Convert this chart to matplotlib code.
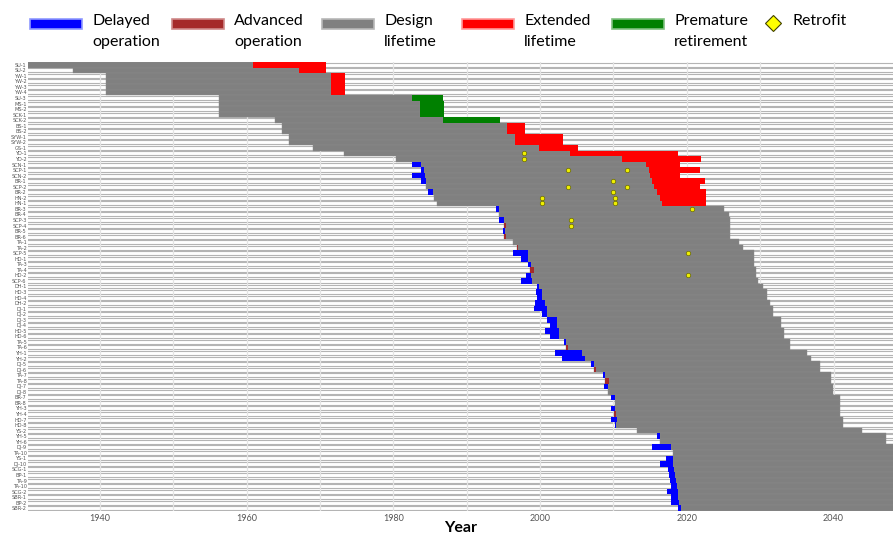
import numpy as np
import matplotlib
matplotlib.use("Agg")
import matplotlib.pyplot as plt
from matplotlib.patches import Rectangle
from matplotlib.lines import Line2D

plt.rcParams['font.family'] = ['Lato', 'DejaVu Sans']

units = ["SU-1", "SU-2", "YW-1", "YW-2", "YW-3", "YW-4", "SU-3", "MS-1", "MS-2", "SCK-1",
         "SCK-2", "BS-1", "BS-2", "SYW-1", "SYW-2", "GS-1", "YD-1", "YD-2", "SCN-1", "SCP-1",
         "SCN-2", "BR-1", "SCP-2", "BR-2", "HN-2", "HN-1", "BR-3", "BR-4", "SCP-3", "SCP-4",
         "BR-5", "BR-6", "TA-1", "TA-2", "SCP-5", "HD-1", "TA-3", "TA-4", "HD-2", "SCP-6",
         "DH-1", "HD-3", "HD-4", "DH-2", "DJ-1", "DJ-2", "DJ-3", "DJ-4", "HD-5", "HD-6",
         "TA-5", "TA-6", "YH-1", "YH-2", "DJ-5", "DJ-6", "TA-7", "TA-8", "DJ-7", "DJ-8",
         "BR-7", "BR-8", "YH-3", "YH-4", "HD-7", "HD-8", "YS-2", "YH-5", "YH-6", "DJ-9",
         "TA-10", "YS-1", "DJ-10", "SCG-1", "BP-1", "TA-9", "TA-10", "SCG-2", "SBR-1", "BP-2",
         "SBR-2"]

# actual start of operation
start = [1930.0, 1936.3, 1940.8, 1940.8, 1940.8, 1940.8, 1956.3, 1956.3, 1956.3, 1956.3,
         1963.9, 1964.8, 1964.8, 1965.8, 1965.8, 1969.0, 1973.3, 1980.3, 1983.7, 1984.2,
         1984.3, 1984.5, 1984.5, 1985.4, 1985.6, 1985.9, 1994.4, 1994.4, 1995.1, 1995.1,
         1995.2, 1995.1, 1996.3, 1996.8, 1998.4, 1998.4, 1998.7, 1998.6, 1998.7, 1998.9,
         1999.8, 2000.2, 2000.2, 2000.7, 2001.0, 2000.9, 2002.3, 2002.3, 2002.6, 2002.6,
         2003.5, 2003.5, 2005.7, 2006.1, 2007.3, 2007.3, 2008.8, 2008.8, 2009.2, 2009.2,
         2010.2, 2010.2, 2010.2, 2010.1, 2010.5, 2010.4, 2013.2, 2016.3, 2016.3, 2017.9,
         2018.1, 2018.1, 2018.1, 2018.2, 2018.4, 2018.5, 2018.6, 2018.8, 2018.8, 2018.9,
         2019.2]

# planned start (None = on schedule)
planned = [None, None, None, None, None, None, None, None, None, None,
           None, None, None, None, None, None, None, None, 1982.6, 1983.7,
           1982.6, 1983.7, None, 1984.7, None, None, 1994.0, None, 1994.4, 1995.3,
           1994.9, 1995.3, None, 1997.0, 1996.3, 1997.4, 1998.4, 1999.1, 1998.1, 1997.4,
           1999.6, 1999.5, 1999.6, 1999.3, 1999.2, 2000.2, 2001.0, 2001.4, 2000.7, 2001.3,
           2003.2, 2003.8, 2002.0, 2003.0, 2007.0, 2007.6, 2008.6, 2009.4, 2008.7, None,
           2009.7, None, 2009.7, 2010.4, 2009.7, 2010.2, None, 2015.9, None, 2015.3,
           None, 2017.2, 2016.3, 2017.5, 2017.6, 2017.7, 2017.9, 2017.3, 2017.9, 2017.9,
           2018.8]

design_end = [1960.9, 1967.1, 1971.5, 1971.5, 1971.5, 1971.5, 1986.8, 1986.9, 1986.9, 1986.9,
              1994.5, 1995.5, 1995.5, 1996.6, 1996.6, 1999.8, 2004.1, 2011.1, 2014.5, 2014.9,
              2015.0, 2015.2, 2015.5, 2015.9, 2016.3, 2016.6, 2025.0, 2025.8, 2025.9, 2025.9,
              2025.9, 2025.9, 2027.1, 2027.6, 2029.1, 2029.1, 2029.1, 2029.4, 2029.4, 2029.7,
              2030.4, 2030.9, 2030.9, 2031.4, 2031.7, 2031.7, 2032.9, 2032.9, 2033.3, 2033.3,
              2034.1, 2034.1, 2036.4, 2036.9, 2038.1, 2038.1, 2039.6, 2039.6, 2039.9, 2039.9,
              2040.9, 2040.9, 2040.9, 2040.9, 2041.3, 2041.3, 2043.9, 2047.1, 2047.1, 2048.7,
              2048.9, 2048.9, 2048.9, 2049.0, 2049.2, 2049.3, 2049.4, 2049.6, 2049.6, 2049.7,
              2050.0]

extended_end = [1970.8, 1970.8, 1973.4, 1973.4, 1973.4, 1973.4, None, None, None, None,
                None, 1997.9, 1997.9, 2003.1, 2003.1, 2005.1, 2018.8, 2021.9, 2019.0, 2021.8,
                2019.0, 2022.5, 2021.8, 2022.6, 2022.6, 2022.6] + [None] * 55

retired = [None] * 6 + [1982.6, 1983.6, 1983.6, 1983.6, 1986.7] + [None] * 70

retrofit_rows = [16, 17, 19, 19, 21, 22, 22, 23, 24, 24, 25, 25, 26, 28, 29, 34, 38]
retrofit_years = [1997.8, 1997.8, 2003.8, 2011.8, 2010.0, 2003.8, 2011.8, 2010.0, 2000.2, 2010.2,
                  2000.2, 2010.2, 2020.7, 2004.2, 2004.2, 2020.1, 2020.1]

legend_labels = ["Delayed\noperation", "Advanced\noperation", "Design\nlifetime",
                 "Extended\nlifetime", "Premature\nretirement"]
legend_colors = ['#0000ff', '#a52a2a', '#808080', '#ff0000', '#008000']
legend_edges = ['#8f99ff', '#cf8a8a', '#b8b8b8', '#ff9a9a', '#7fc07f']

x_min, x_max = 1930.2, 2048.1
W, H = 893, 536

start = np.array(start, dtype=float)
planned = np.array(planned, dtype=float)
design_end = np.array(design_end, dtype=float)
extended_end = np.array(extended_end, dtype=float)
retired = np.array(retired, dtype=float)
rows = np.arange(len(units))

fig = plt.figure(figsize=(W / 100, H / 100), dpi=100)
ax = fig.add_axes([28 / W, 1 - 511 / H, 1 - 28 / W, (511 - 62) / H])

# empty row background
ax.barh(rows, x_max - x_min + 5, left=x_min - 2, height=0.72, color='white',
        edgecolor='#b4b4b4', linewidth=0.8, zorder=1)
for yr in range(1940, 2050, 10):
    ax.axvline(yr, color='#e4e4e4', linewidth=0.9, zorder=1.5)

gray_end = np.where(np.isnan(retired), design_end, retired)
ax.barh(rows, gray_end - start, left=start, height=1.0, color='#808080',
        edgecolor='#8a8a8a', linewidth=0.3, zorder=2)

late = planned < start
ax.barh(rows[late], start[late] - planned[late], left=planned[late], height=1.0,
        color='#0000ff', zorder=3)
early = planned > start
ax.barh(rows[early], planned[early] - start[early], left=start[early], height=1.0,
        color='#a52a2a', zorder=3)
ext = ~np.isnan(extended_end)
ax.barh(rows[ext], extended_end[ext] - design_end[ext], left=design_end[ext], height=1.0,
        color='#ff0000', zorder=3)
ret = ~np.isnan(retired)
ax.barh(rows[ret], design_end[ret] - retired[ret], left=retired[ret], height=1.0,
        color='#008000', zorder=3)

ax.plot(retrofit_years, retrofit_rows, 'o', markersize=3.2, markerfacecolor='#f0f000',
        markeredgecolor='#6b6b00', markeredgewidth=0.5, linestyle='none', zorder=4)

ax.set_xlim(x_min, x_max)
ax.set_ylim(len(units) - 0.5, -0.5)
ax.set_yticks(rows)
ax.set_yticklabels(units, fontsize=3.6, color='#555555', family='DejaVu Sans')
ax.set_xticks(range(1940, 2050, 20))
ax.tick_params(axis='x', labelsize=6.5, labelcolor='#555555', length=0, pad=2)
ax.tick_params(axis='y', length=0, pad=1)
for s in ax.spines.values():
    s.set_visible(False)
ax.set_xlabel("Year", fontsize=11.5, fontweight='bold', labelpad=-1)

# legend drawn by hand so the swatch sits on the first text line
patch_x = [30, 172, 322, 462, 612]
for px, lab, col, edg in zip(patch_x, legend_labels, legend_colors, legend_edges):
    fig.add_artist(Rectangle((px / W, 1 - 29 / H), 52 / W, 10 / H, transform=fig.transFigure,
                             facecolor=col, edgecolor=edg, linewidth=1.2))
    fig.text((px + 62) / W, 1 - 14 / H, lab, fontsize=11.5, va='top', ha='left',
             linespacing=1.6)
fig.add_artist(Line2D([773 / W], [1 - 23 / H], marker='D', markersize=8,
                      markerfacecolor='#ffff00', markeredgecolor='#404000',
                      markeredgewidth=0.8, transform=fig.transFigure))
fig.text(793 / W, 1 - 14 / H, "Retrofit", fontsize=11.5, va='top', ha='left')

fig.savefig("out.png", dpi=100)
